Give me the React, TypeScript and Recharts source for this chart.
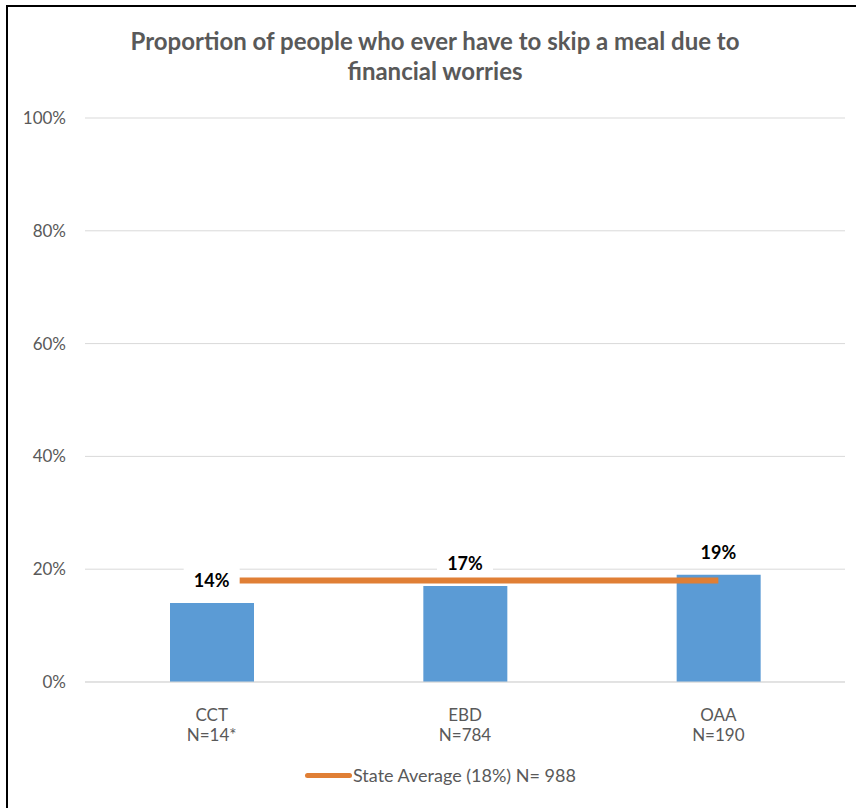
import React from 'react';
import { ComposedChart, Bar, Line, XAxis, YAxis, CartesianGrid, LabelList } from 'recharts';

const groups = ['CCT', 'EBD', 'OAA'];
const sampleSizes = ['N=14*', 'N=784', 'N=190'];
const skipMeal = [14, 17, 19];
const stateAverage = [18, 18, 18];
const yTicks = [0, 20, 40, 60, 80, 100];

const data = groups.map((g, i) => ({
  name: g,
  n: sampleSizes[i],
  value: skipMeal[i],
  avg: stateAverage[i],
}));

const FONT = 'Lato, "Open Sans", sans-serif';
const BLUE = '#5B9BD5';
const ORANGE = '#E07F35';

const GroupTick = (props: any) => {
  const { x, y, payload, index } = props;
  return (
    <g transform={`translate(${x},${y})`}>
      <text x={0} y={24} textAnchor="middle" dominantBaseline="central" fill="#595959" fontSize={17} fontFamily={FONT}>
        {payload.value}
      </text>
      <text x={0} y={44} textAnchor="middle" dominantBaseline="central" fill="#595959" fontSize={17} fontFamily={FONT}>
        {sampleSizes[index]}
      </text>
    </g>
  );
};

// value label with a white box, drawn above the average line
const ValueLabel = (props: any) => {
  const { x, y, value } = props;
  const cy = y - 23;
  return (
    <g>
      <rect x={x - 28} y={cy - 12} width={56} height={24} fill="#fff" />
      <text x={x} y={cy} textAnchor="middle" dominantBaseline="central" fontSize={18} fontWeight="bold" fill="#000" fontFamily={FONT}>
        {value}%
      </text>
    </g>
  );
};

const App = () => {
  return (
    <div style={{ position: 'absolute', left: 0, top: 0, width: 856, height: 808, background: '#fff', overflow: 'hidden' }}>
      <div style={{ position: 'absolute', left: 6, top: 5, width: 900, height: 900, borderTop: '2px solid #000', borderLeft: '2px solid #000' }} />
      <div style={{ position: 'absolute', left: 0, top: 26, width: 870, textAlign: 'center', fontFamily: FONT, fontWeight: 'bold', fontSize: 24, lineHeight: '30px', color: '#595959' }}>
        Proportion of people who ever have to skip a meal due to
        <br />
        financial worries
      </div>
      <div style={{ position: 'absolute', left: 0, top: 0 }}>
        <ComposedChart width={856} height={808} data={data} margin={{ top: 118, right: 11, bottom: 66, left: 0 }}>
          <CartesianGrid vertical={false} stroke="#d9d9d9" />
          <XAxis dataKey="name" axisLine={{ stroke: '#d9d9d9' }} tickLine={false} tick={<GroupTick />} height={60} interval={0} />
          <YAxis
            domain={[0, 100]}
            ticks={yTicks}
            tickFormatter={(v: number) => `${v}%`}
            axisLine={false}
            tickLine={false}
            tickSize={10}
            tickMargin={9}
            width={85}
            tick={{ fill: '#595959', fontSize: 17, fontFamily: FONT }}
          />
          <Bar dataKey="value" fill={BLUE} barSize={84} isAnimationActive={false} />
          <Line dataKey="avg" stroke={ORANGE} strokeWidth={6} dot={false} activeDot={false} isAnimationActive={false} />
          <Line dataKey="value" stroke="none" dot={false} activeDot={false} isAnimationActive={false}>
            <LabelList dataKey="value" content={<ValueLabel />} />
          </Line>
        </ComposedChart>
      </div>
      <div style={{ position: 'absolute', left: 305, top: 764, height: 22, display: 'flex', alignItems: 'center', fontFamily: FONT, fontSize: 18, color: '#595959' }}>
        <span style={{ display: 'inline-block', width: 47, height: 5, background: ORANGE, borderRadius: 3, marginRight: 1 }} />
        <span>State Average (18%) N= 988</span>
      </div>
    </div>
  );
};

export default App;
